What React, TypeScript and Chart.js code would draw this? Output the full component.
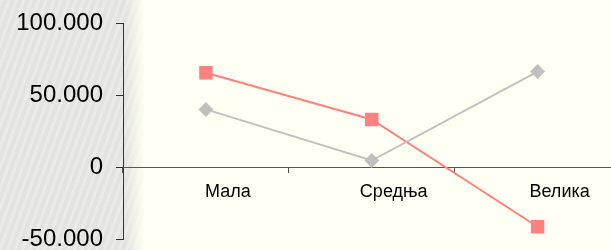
import React, { useEffect, useRef } from "react";
import { Chart, registerables } from "chart.js";

Chart.register(...registerables);

const categories = ["Мала", "Средња", "Велика"];
const seriesRed = [65500, 33000, -41500];
const seriesGray = [40000, 4500, 66300];
const yTickValues = [-50000, 0, 50000, 100000];

function formatThousands(v: number): string {
  const s = Math.abs(v).toString().replace(/\B(?=(\d{3})+(?!\d))/g, ".");
  return (v < 0 ? "-" : "") + s;
}

export default function App() {
  const ref = useRef<HTMLCanvasElement | null>(null);

  useEffect(() => {
    document.body.style.margin = "0";
    const canvas = ref.current;
    if (!canvas) return;
    const chart = new Chart(canvas, {
      type: "line",
      data: {
        labels: categories,
        datasets: [
          {
            data: seriesGray,
            borderColor: "#C0C0C0",
            backgroundColor: "#C0C0C0",
            borderWidth: 2,
            pointStyle: "rectRot",
            pointRadius: 7.5,
            pointBorderWidth: 0,
            pointBackgroundColor: "#C0C0C0",
            tension: 0,
          },
          {
            data: seriesRed,
            borderColor: "#FF8080",
            backgroundColor: "#FF8080",
            borderWidth: 2,
            pointStyle: "rect",
            pointRadius: 9.5,
            pointBorderWidth: 0,
            pointBackgroundColor: "#FF8080",
            tension: 0,
          },
        ],
      },
      options: {
        animation: false,
        responsive: false,
        devicePixelRatio: 1,
        layout: { padding: { top: 23, bottom: 11, left: 0, right: 9 } },
        plugins: { legend: { display: false }, tooltip: { enabled: false } },
        scales: {
          y: {
            min: -50000,
            max: 100000,
            afterFit: (scale: any) => {
              scale.width = 123;
              scale.paddingTop = 0;
              scale.paddingBottom = 0;
            },
            afterBuildTicks: (scale: any) => {
              scale.ticks = yTickValues.map((v) => ({ value: v }));
            },
            grid: {
              drawOnChartArea: false,
              drawTicks: true,
              tickLength: 7,
              color: "#333333",
            },
            border: { display: true, color: "#333333", width: 1 },
            ticks: {
              padding: 13,
              color: "#000000",
              font: { family: "Liberation Sans, Arial, sans-serif", size: 24 },
              callback: (v: any) => formatThousands(Number(v)),
            },
          },
          x: {
            position: { y: 0 } as any,
            offset: true,
            afterFit: (scale: any) => {
              scale.height = 0;
              scale.paddingLeft = 0;
              scale.paddingRight = 0;
            },
            grid: {
              offset: true,
              drawOnChartArea: false,
              drawTicks: true,
              tickLength: 5,
              color: "#555555",
            },
            border: { display: true, color: "#555555", width: 1 },
            ticks: {
              padding: 9,
              labelOffset: 22,
              color: "#000000",
              maxRotation: 0,
              autoSkip: false,
              font: { family: "Liberation Sans, Arial, sans-serif", size: 18 },
            },
          },
        },
      },
    });
    return () => chart.destroy();
  }, []);

  return (
    <div
      style={{
        position: "relative",
        width: 611,
        height: 250,
        overflow: "hidden",
        background: "#FFFFF3",
      }}
    >
      <div
        style={{
          position: "absolute",
          left: 0,
          top: 0,
          width: 145,
          height: 250,
          background:
            "linear-gradient(90deg, rgba(255,255,243,0) 0px, rgba(255,255,243,0) 126px, #FFFFF3 145px), repeating-linear-gradient(110deg, rgba(255,255,255,0.18) 0px, rgba(255,255,255,0.18) 3px, rgba(0,0,0,0.012) 3px, rgba(0,0,0,0.012) 7px), #E6E7E4",
        }}
      />
      <canvas
        ref={ref}
        width={630}
        height={250}
        style={{ position: "absolute", left: 0, top: 0, width: 630, height: 250 }}
      />
    </div>
  );
}
